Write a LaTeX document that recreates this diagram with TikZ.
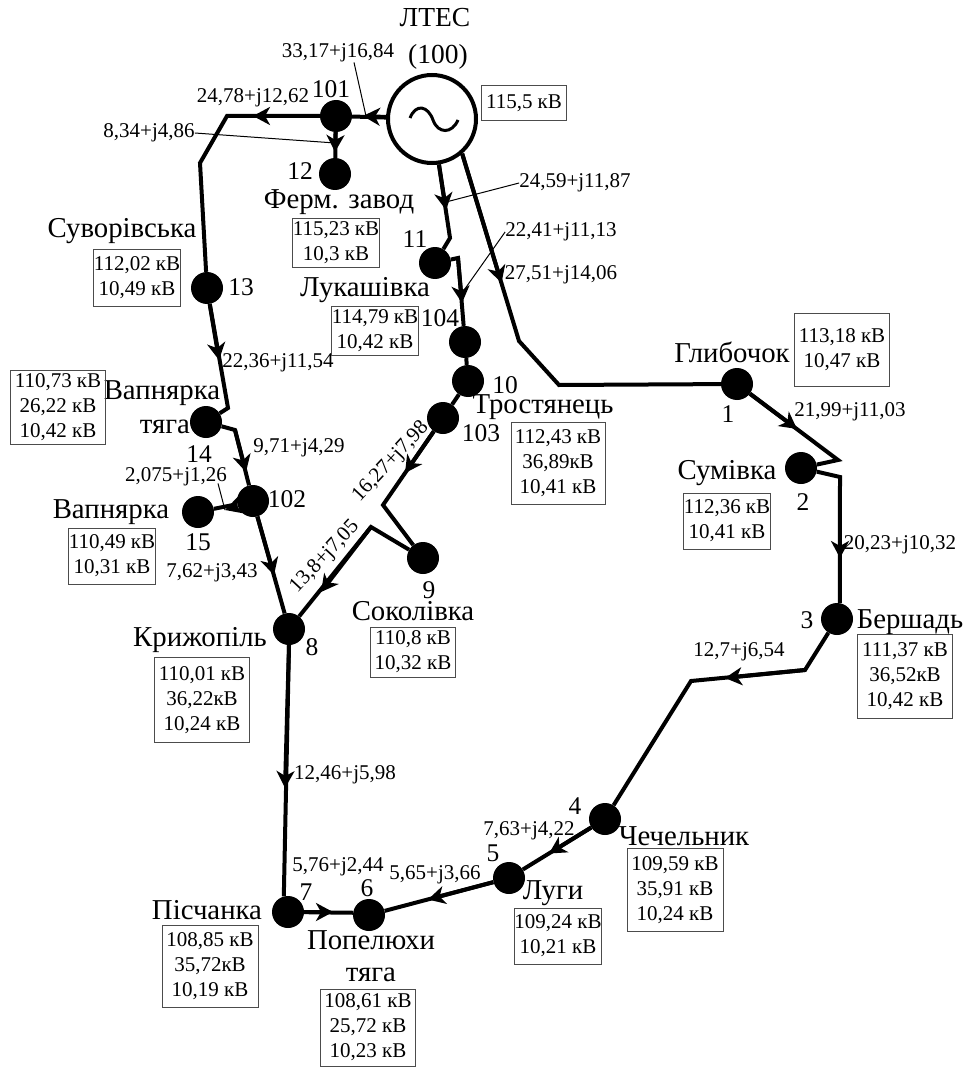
\documentclass[tikz,border=0pt]{standalone}
\usepackage{fontspec}
\setmainfont{Liberation Serif}
\usetikzlibrary{arrows.meta,positioning}

\begin{document}
\begin{tikzpicture}[
  x=1pt, y=-1pt,
  bus/.style={circle, fill=black, minimum size=32pt, inner sep=0pt},
  gen/.style={circle, draw, line width=4pt, fill=white, minimum size=88pt, inner sep=0pt},
  lbl/.style={font=\fontsize{25.5}{25.5}\selectfont, inner sep=0pt},
  stn/.style={font=\fontsize{28.8}{28.8}\selectfont, inner sep=0pt},
  src/.style={font=\fontsize{27.5}{27.5}\selectfont, inner sep=0pt},
  flow/.style={font=\fontsize{21}{21}\selectfont, inner sep=0pt},
  volt/.style={draw=black!70, line width=1pt, font=\fontsize{21}{25}\selectfont, align=center, inner sep=0pt},
  feed/.style={line width=4pt, line join=miter},
  arr/.style={feed, -{Stealth[length=17pt, width=18pt, inset=5pt]}},
  leader/.style={line width=1pt}
]
\useasboundingbox (0,0) rectangle (966,1067);

% buses
\node[gen] (g100) at (432,119) {};
\node[bus] (n101) at (336,116) {};
\node[bus] (n12) at (335,174) {};
\node[bus] (n13) at (207,288) {};
\node[bus] (n11) at (435,263) {};
\node[bus] (n104) at (465,342) {};
\node[bus] (n10) at (468,381) {};
\node[bus] (n103) at (443,418) {};
\node[bus] (n14) at (206,422) {};
\node[bus] (n102) at (253,501) {};
\node[bus] (n15) at (198,512) {};
\node[bus] (n9) at (423,558) {};
\node[bus] (n8) at (289,629) {};
\node[bus] (n7) at (288,912) {};
\node[bus] (n6) at (369,915) {};
\node[bus] (n5) at (509,878) {};
\node[bus] (n4) at (605,819) {};
\node[bus] (n3) at (837,619) {};
\node[bus] (n2) at (801,468) {};
\node[bus] (n1) at (737,384) {};

\draw[line width=3pt] (410,118) .. controls (416,103) and (428,106) .. (433,120) .. controls (438,134) and (452,134) .. (458,120);

% bends
\coordinate (b1) at (227,116);
\coordinate (b2) at (200,163);
\coordinate (b3) at (228,408);
\coordinate (b4) at (235,430);
\coordinate (b5) at (450,238);
\coordinate (b6) at (458,258);
\coordinate (b7) at (519,341);
\coordinate (b8) at (559,385);
\coordinate (b9) at (838,460);
\coordinate (b10) at (840,477);
\coordinate (b11) at (805,670);
\coordinate (b12) at (691,681);
\coordinate (b13) at (383,505);
\coordinate (b14) at (371,527);

% arrow tips
\coordinate (t1) at (363,116);
\coordinate (t2) at (253,116);
\coordinate (t3) at (335,152);
\coordinate (t4) at (219,360);
\coordinate (t5) at (246,472);
\coordinate (t6) at (225,510);
\coordinate (t7) at (274,575);
\coordinate (t8) at (405,473);
\coordinate (t9) at (321,592);
\coordinate (t10) at (285,788);
\coordinate (t11) at (333,912);
\coordinate (t12) at (428,899.5);
\coordinate (t13) at (549,853.5);
\coordinate (t14) at (725,678);
\coordinate (t15) at (840,558);
\coordinate (t16) at (797,429);
\coordinate (t17) at (501.5,283);
\coordinate (t18) at (446,210);
\coordinate (t19) at (462,303);

% lines
\draw[feed] (g100) -- (n101);
\draw[feed] (n101) -- (b1) -- (b2) -- (n13);
\draw[feed] (n101) -- (n12);
\draw[feed] (n13) -- (b3) -- (n14);
\draw[feed] (n14) -- (b4) -- (n102);
\draw[feed] (n102) -- (n15);
\draw[feed] (n102) -- (n8);
\draw[feed] (n8.south) -- (n7.105);
\draw[feed] (n7) -- (n6.172);
\draw[feed] (n5) -- (n6);
\draw[feed] (n4) -- (n5);
\draw[feed] (n3) -- (b11) -- (b12) -- (n4);
\draw[feed] (n2) -- (b10) -- (n3.80);
\draw[feed] (n1) -- (b9) -- (n2);
\draw[feed] (g100.-49) -- (b7) -- (b8) -- (n1);
\draw[feed] (g100) -- (b5) -- (n11);
\draw[feed] (n11) -- (b6) -- (n104);
\draw[feed] (n104) -- (n10);
\draw[feed] (n10) -- (n103);
\draw[feed] (n103) -- (b13) -- (n9);
\draw[feed] (n9) -- (b14) -- (n8);

% arrows on lines
\draw[arr] (g100) -- (t1);
\draw[arr] (n101) -- (t2);
\draw[arr] (n101) -- (t3);
\draw[arr] (n13) -- (t4);
\draw[arr] (b4) -- (t5);
\draw[arr] (n102) -- (t6);
\draw[arr] (n102) -- (t7);
\draw[arr] (n8.south) -- (t10);
\draw[arr] (n7) -- (t11);
\draw[arr] (n5) -- (t12);
\draw[arr] (n4) -- (t13);
\draw[arr] (b11) -- (t14);
\draw[arr] (b10) -- (t15);
\draw[arr] (n1) -- (t16);
\draw[arr] (g100.-49) -- (t17);
\draw[arr] (g100) -- (t18);
\draw[arr] (b6) -- (t19);
\draw[arr] (n103) -- (t8);
\draw[arr] (b14) -- (t9);

% flows
\node[flow] (f1) at (338,53) {33,17+j16,84};
\node[flow] (f2) at (253,98) {24,78+j12,62};
\node[flow] (f3) at (149,133) {8,34+j4,86};
\node[flow] (f4) at (575,183) {24,59+j11,87};
\node[flow] (f5) at (561,232) {22,41+j11,13};
\node[flow] (f6) at (561,275) {27,51+j14,06};
\node[flow] (f7) at (278,363) {22,36+j11,54};
\node[flow] (f8) at (299,448) {9,71+j4,29};
\node[flow] (f9) at (176,477) {2,075+j1,26};
\node[flow] (f10) at (212,573) {7,62+j3,43};
\node[flow, rotate=47] (f11) at (391,462) {16,27+j7,98};
\node[flow, rotate=47] (f12) at (325,557) {13,8+j7,05};
\node[flow] (f13) at (345,775) {12,46+j5,98};
\node[flow] (f14) at (338,867) {5,76+j2,44};
\node[flow] (f15) at (435,875) {5,65+j3,66};
\node[flow] (f16) at (529,831) {7,63+j4,22};
\node[flow] (f17) at (739,652) {12,7+j6,54};
\node[flow] (f18) at (900,545) {20,23+j10,32};
\node[flow] (f19) at (850,412) {21,99+j11,03};

\draw[leader] ([xshift=16pt]f1.south) -- ([xshift=3pt]t1);
\draw[leader] (f3.east) -- ([yshift=9pt]t3);
\draw[leader] (f4.west) -- ([yshift=8pt]t18);
\draw[leader] (f5.west) -- ([yshift=10pt]t19);
\draw[leader] ([xshift=42pt,yshift=3pt]f9.south) -- (t6);

% names
\node[src] (ltes) at (435,18) {ЛТЕС};
\node[src] (ltesn) at (438,57) {(100)};
\node[lbl] (l101) at (331,89) {101};
\node[lbl] (l12) at (300,171) {12};
\node[lbl] (l13) at (241,287) {13};
\node[lbl] (l11) at (415,239) {11};
\node[lbl] (l104) at (440,318) {104};
\node[lbl] (l10) at (505,385) {10};
\node[lbl] (l103) at (481,433) {103};
\node[lbl] (l14) at (199,454) {14};
\node[lbl] (l102) at (287,499) {102};
\node[lbl] (l15) at (198,542) {15};
\node[lbl] (l9) at (429,590) {9};
\node[lbl] (l8) at (312,647) {8};
\node[lbl] (l7) at (306,892) {7};
\node[lbl] (l6) at (367,888) {6};
\node[lbl] (l5) at (493,853) {5};
\node[lbl] (l4) at (575,806) {4};
\node[lbl] (l3) at (807,620) {3};
\node[lbl] (l2) at (803,502) {2};
\node[lbl] (l1) at (728,414) {1};
\node[stn] (zavod) at (339,202) {Ферм. завод};
\node[stn] (suvor) at (122,231) {Суворівська};
\node[stn] (lukash) at (365,290) {Лукашівка};
\node[stn] (vaptr) at (162,393) {Вапнярка};
\node[stn] (tyaga1) at (165,427) {тяга};
\node[stn] (vap) at (111,512) {Вапнярка};
\node[stn] (sokol) at (413,611) {Соколівка};
\node[stn] (kryzh) at (200,640) {Крижопіль};
\node[stn] (pisch) at (207,910) {Пісчанка};
\node[stn] (popel) at (371,940) {Попелюхи};
\node[stn] (tyaga2) at (371,975) {тяга};
\node[stn] (lugy) at (553,893) {Луги};
\node[stn] (chech) at (684,836) {Чечельник};
\node[stn] (bersh) at (910,622) {Бершадь};
\node[stn] (sumiv) at (727,473) {Сумівка};
\node[stn] (glyb) at (732,352) {Глибочок};
\node[stn] (trost) at (543,407) {Тростянець};

% voltages
\node[volt, minimum width=85pt, minimum height=35pt] (v100) at (524,103) {115,5 кВ};
\node[volt, minimum width=85pt, minimum height=48pt] (v12) at (336,243) {115,23 кВ\\10,3 кВ};
\node[volt, minimum width=85pt, minimum height=49pt] (v104) at (375,331) {114,79 кВ\\10,42 кВ};
\node[volt, minimum width=85pt, minimum height=57pt] (v13) at (137,278) {112,02 кВ\\10,49 кВ};
\node[volt, minimum width=95pt, minimum height=74pt] (v14) at (58,407) {110,73 кВ\\26,22 кВ\\10,42 кВ};
\node[volt, minimum width=86pt, minimum height=56pt] (v15) at (112,556) {110,49 кВ\\10,31 кВ};
\node[volt, minimum width=85pt, minimum height=50pt] (v9) at (413,652) {110,8 кВ\\10,32 кВ};
\node[volt, minimum width=95pt, minimum height=85pt] (v8) at (202,700) {110,01 кВ\\36,22кВ\\10,24 кВ};
\node[volt, minimum width=96pt, minimum height=82pt] (v7) at (210,966) {108,85 кВ\\35,72кВ\\10,19 кВ};
\node[volt, minimum width=95pt, minimum height=77pt] (v6) at (368,1027.5) {108,61 кВ\\25,72 кВ\\10,23 кВ};
\node[volt, minimum width=86pt, minimum height=56pt] (v5) at (558,936) {109,24 кВ\\10,21 кВ};
\node[volt, minimum width=96pt, minimum height=83pt] (v4) at (675,890) {109,59 кВ\\35,91 кВ\\10,24 кВ};
\node[volt, minimum width=95pt, minimum height=84pt] (v3) at (905,676) {111,37 кВ\\36,52кВ\\10,42 кВ};
\node[volt, minimum width=86pt, minimum height=56pt] (v2) at (727,521) {112,36 кВ\\10,41 кВ};
\node[volt, minimum width=95pt, minimum height=73pt] (v1) at (842,350) {113,18 кВ\\10,47 кВ};
\node[volt, minimum width=94pt, minimum height=82pt] (v10) at (558,463) {112,43 кВ\\36,89кВ\\10,41 кВ};
\end{tikzpicture}
\end{document}
